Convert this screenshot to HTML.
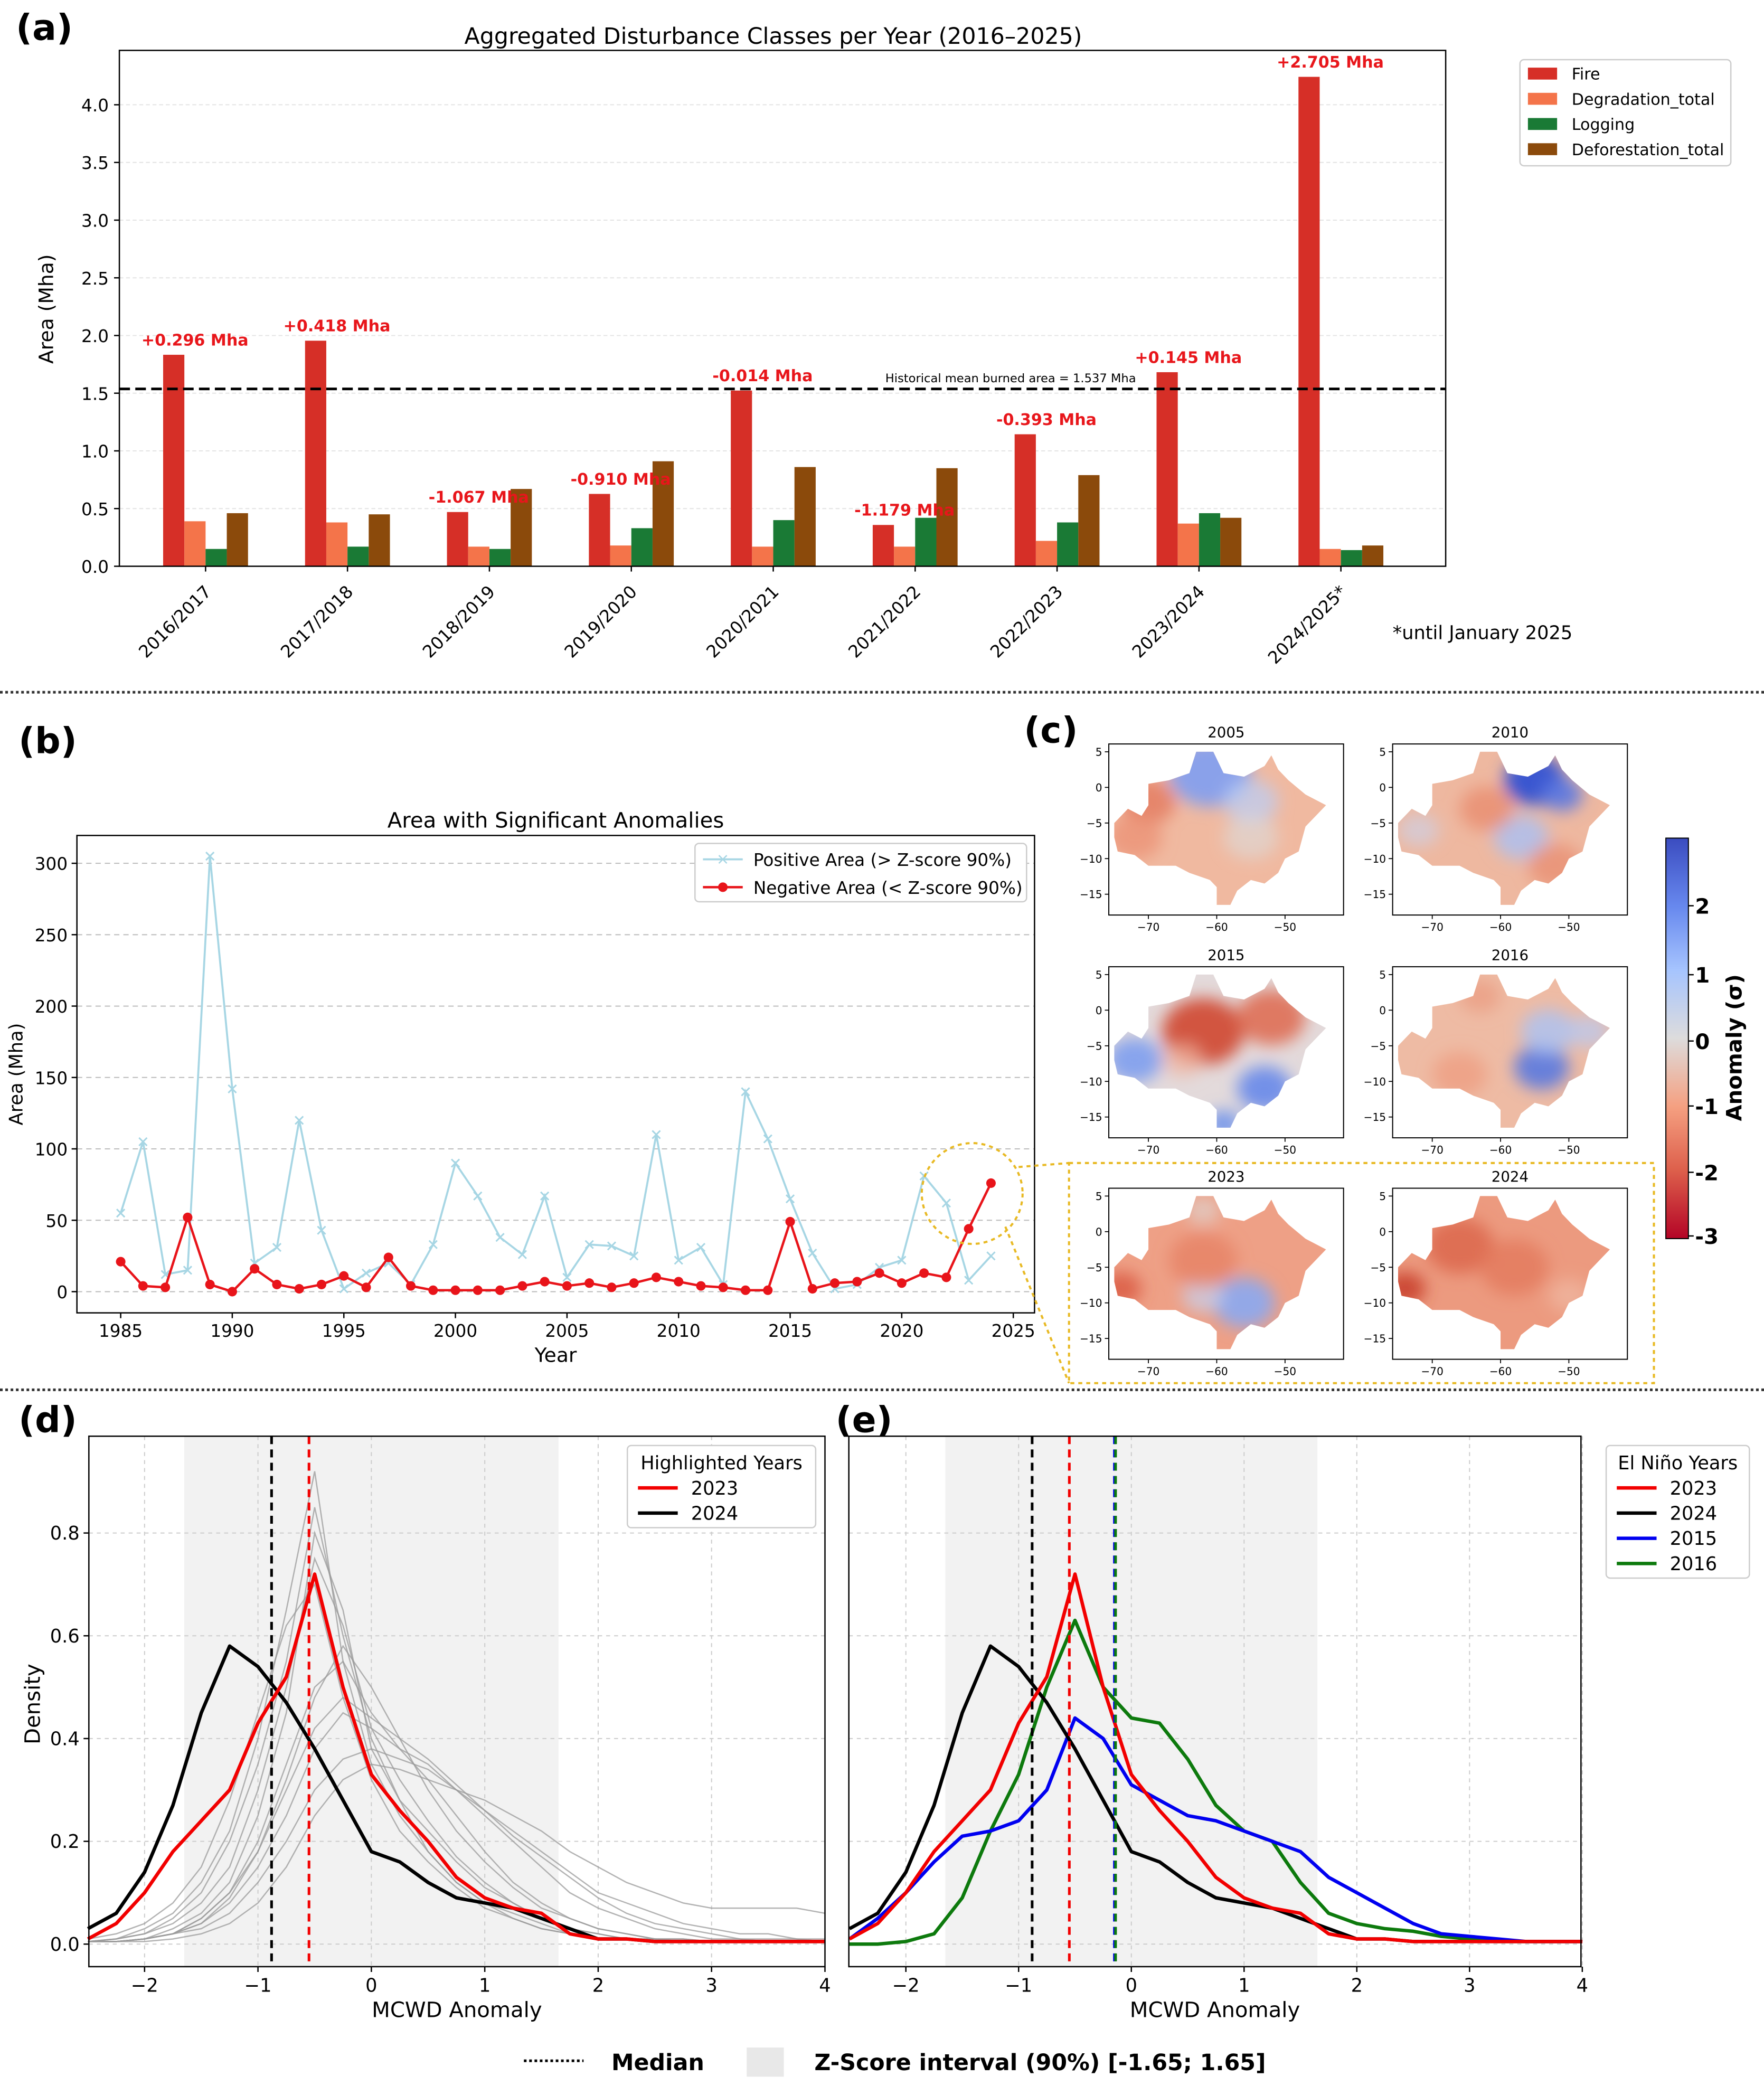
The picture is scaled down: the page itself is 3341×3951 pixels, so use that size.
<!DOCTYPE html>
<html><head><meta charset="utf-8">
<style>
html,body{margin:0;padding:0;background:#fff;}
svg{display:block;font-family:"DejaVu Sans","Liberation Sans",sans-serif;}
</style></head>
<body>
<svg id="fig" width="3341" height="3951" viewBox="0 0 1330 1573" preserveAspectRatio="none" xmlns="http://www.w3.org/2000/svg">
<defs>
<linearGradient id="cbar" x1="0" y1="1" x2="0" y2="0">
<stop offset="0" stop-color="#b40426"/><stop offset="0.17" stop-color="#dd5f4b"/><stop offset="0.33" stop-color="#f5a081"/><stop offset="0.5" stop-color="#dddcdc"/><stop offset="0.67" stop-color="#a6c4fe"/><stop offset="0.83" stop-color="#6788ee"/><stop offset="1" stop-color="#3b4cc0"/>
</linearGradient>
<filter id="blur" x="-50%" y="-50%" width="200%" height="200%"><feGaussianBlur stdDeviation="6"/></filter>
</defs>
<g id="root"></g>
</svg>
<script>
// ---------- Panel (a) data ----------
const aCats=["2016/2017","2017/2018","2018/2019","2019/2020","2020/2021","2021/2022","2022/2023","2023/2024","2024/2025*"];
const aFire=[1.833,1.955,0.470,0.627,1.523,0.358,1.144,1.682,4.242];
const aDeg=[0.39,0.38,0.17,0.18,0.17,0.17,0.22,0.37,0.15];
const aLog=[0.15,0.17,0.15,0.33,0.40,0.42,0.38,0.46,0.14];
const aDef=[0.46,0.45,0.67,0.91,0.86,0.85,0.79,0.42,0.18];
const aLabels=["+0.296 Mha","+0.418 Mha","-1.067 Mha","-0.910 Mha","-0.014 Mha","-1.179 Mha","-0.393 Mha","+0.145 Mha","+2.705 Mha"];
const aYTicks=[0,0.5,1.0,1.5,2.0,2.5,3.0,3.5,4.0];
const aMean=1.537;
// ---------- Panel (b) data ----------
const bYears=[];for(let y=1985;y<=2024;y++)bYears.push(y);
const bPos=[55,105,12,15,305,142,20,31,120,43,2,13,20,5,33,90,67,38,26,67,10,33,32,25,110,22,31,5,140,107,65,27,2,5,17,22,81,62,8,25];
const bNeg=[21,4,3,52,5,0,16,5,2,5,11,3,24,4,1,1,1,1,4,7,4,6,3,6,10,7,4,3,0,1,1,49,2,6,7,13,6,13,10,44];
bNeg.push(76); bNeg.splice(28,1);
const bXTicks=[1985,1990,1995,2000,2005,2010,2015,2020,2025];
const bYTicks=[0,50,100,150,200,250,300];
// ---------- Panel (d)/(e) data ----------
const kdeX=[-2.5,-2.25,-2,-1.75,-1.5,-1.25,-1,-0.75,-0.5,-0.25,0,0.25,0.5,0.75,1,1.25,1.5,1.75,2,2.25,2.5,2.75,3,3.25,3.5,3.75,4];
const d2023=[0.01,0.04,0.10,0.18,0.24,0.30,0.43,0.52,0.72,0.50,0.33,0.26,0.20,0.13,0.09,0.07,0.06,0.02,0.01,0.01,0.005,0.005,0.005,0.005,0.005,0.005,0.005];
const d2024=[0.03,0.06,0.14,0.27,0.45,0.58,0.54,0.47,0.38,0.28,0.18,0.16,0.12,0.09,0.08,0.07,0.05,0.03,0.01,0.01,0.005,0.005,0.005,0.005,0.005,0.005,0.005];
const d2015=[0.01,0.05,0.10,0.16,0.21,0.22,0.24,0.30,0.44,0.40,0.31,0.28,0.25,0.24,0.22,0.20,0.18,0.13,0.10,0.07,0.04,0.02,0.015,0.01,0.005,0.005,0.005];
const d2016=[0,0,0.005,0.02,0.09,0.22,0.33,0.50,0.63,0.50,0.44,0.43,0.36,0.27,0.22,0.20,0.12,0.06,0.04,0.03,0.025,0.015,0.01,0.005,0.005,0.005,0.005];
const greyA=[0.005,0.01,0.02,0.05,0.10,0.20,0.35,0.55,0.85,0.60,0.40,0.28,0.18,0.12,0.08,0.05,0.03,0.02,0.01,0.01,0.005,0.005,0.005,0.005,0.005,0.005,0.005];
const greyB=[0.005,0.01,0.03,0.06,0.12,0.22,0.40,0.65,0.92,0.55,0.35,0.25,0.18,0.12,0.08,0.06,0.04,0.02,0.01,0.01,0.005,0.005,0.005,0.005,0.005,0.005,0.005];
const greyC=[0.005,0.005,0.01,0.02,0.05,0.10,0.20,0.35,0.50,0.55,0.45,0.38,0.32,0.25,0.18,0.12,0.08,0.05,0.03,0.02,0.01,0.01,0.005,0.005,0.005,0.005,0.005];
const greyD=[0.005,0.005,0.01,0.02,0.04,0.08,0.15,0.25,0.38,0.45,0.42,0.38,0.35,0.30,0.25,0.20,0.15,0.10,0.07,0.05,0.03,0.02,0.01,0.01,0.005,0.005,0.005];
const greyE=[0.005,0.01,0.02,0.04,0.08,0.15,0.30,0.50,0.75,0.62,0.42,0.32,0.24,0.17,0.12,0.08,0.05,0.03,0.02,0.01,0.01,0.005,0.005,0.005,0.005,0.005,0.005];
const greyF=[0.005,0.005,0.01,0.02,0.03,0.06,0.12,0.20,0.30,0.36,0.38,0.36,0.34,0.30,0.26,0.22,0.18,0.14,0.10,0.08,0.06,0.04,0.03,0.02,0.02,0.01,0.01];
const greyG=[0.005,0.005,0.01,0.02,0.04,0.09,0.18,0.32,0.48,0.58,0.50,0.40,0.30,0.22,0.16,0.11,0.07,0.05,0.03,0.02,0.01,0.01,0.005,0.005,0.005,0.005,0.005];
const greyH=[0.005,0.005,0.005,0.01,0.02,0.04,0.08,0.15,0.25,0.32,0.35,0.34,0.32,0.30,0.28,0.25,0.22,0.18,0.15,0.12,0.10,0.08,0.07,0.07,0.07,0.07,0.06];
const greyI=[0.01,0.02,0.04,0.08,0.15,0.28,0.45,0.62,0.70,0.48,0.32,0.22,0.16,0.11,0.07,0.05,0.03,0.02,0.01,0.01,0.005,0.005,0.005,0.005,0.005,0.005,0.005];
const greyJ=[0.005,0.005,0.01,0.03,0.06,0.12,0.25,0.45,0.80,0.65,0.38,0.28,0.22,0.16,0.11,0.08,0.05,0.03,0.02,0.01,0.01,0.005,0.005,0.005,0.005,0.005,0.005];
const greyK=[0.005,0.005,0.01,0.02,0.05,0.10,0.18,0.30,0.42,0.48,0.44,0.40,0.36,0.31,0.26,0.21,0.17,0.13,0.09,0.06,0.04,0.03,0.02,0.01,0.01,0.01,0.005];
const greys=[greyA,greyB,greyC,greyD,greyE,greyF,greyG,greyH,greyI,greyJ,greyK];
const kdeXTicks=[-2,-1,0,1,2,3,4];
const kdeYTicks=[0,0.2,0.4,0.6,0.8];
const medD={m2023:-0.55,m2024:-0.88};
const medE={m2023:-0.55,m2024:-0.88,m2015:-0.15,m2016:-0.14};

const NS="http://www.w3.org/2000/svg";
const root=document.getElementById('root');
function el(tag,attrs,parent,text){const e=document.createElementNS(NS,tag);for(const k in attrs)e.setAttribute(k,attrs[k]);if(text!==undefined)e.textContent=text;(parent||root).appendChild(e);return e;}

// ===== Panel (a) =====
const A={x0:90,x1:1090,y0:38,y1:427,groupStart:155,groupStep:107,barW:16};
const ay=v=>A.y1-v*87;
const gA=el('g',{});

el('text',{x:12,y:30,'font-size':27,'font-weight':'bold'},gA,'(a)');
el('text',{x:583,y:33,'font-size':17,'text-anchor':'middle'},gA,'Aggregated Disturbance Classes per Year (2016–2025)');
aYTicks.forEach(t=>{el('line',{x1:A.x0,x2:A.x1,y1:ay(t),y2:ay(t),stroke:'#e4e4e4','stroke-width':0.8,'stroke-dasharray':'3,2'},gA);
 el('line',{x1:A.x0-4,x2:A.x0,y1:ay(t),y2:ay(t),stroke:'#000'},gA);
 el('text',{x:A.x0-8,y:ay(t)+5,'font-size':13,'text-anchor':'end'},gA,t.toFixed(1));});
el('text',{x:40,y:233,'font-size':15,'text-anchor':'middle',transform:'rotate(-90 40 233)'},gA,'Area (Mha)');
const series=[[aFire,'#d62f27','fire'],[aDeg,'#f4744a','degradation'],[aLog,'#1a7a35','logging'],[aDef,'#8b4a0b','deforestation']];
aCats.forEach((c,i)=>{const cx=A.groupStart+i*A.groupStep;
 series.forEach((s,j)=>{const x=cx-32+j*A.barW;const r=el('rect',{x:x,y:ay(s[0][i]),width:A.barW,height:ay(0)-ay(s[0][i]),fill:s[1]},gA);
  });
 el('line',{x1:cx,x2:cx,y1:A.y1,y2:A.y1+4,stroke:'#000'},gA);
 el('text',{x:cx+5,y:A.y1+20,'font-size':13,'text-anchor':'end',transform:`rotate(-45 ${cx+5} ${A.y1+20})`},gA,c);
 const lx=cx-32+A.barW*0.5;
 el('text',{x:cx-8+(i==8?0:0),y:ay(aFire[i])-7,'font-size':12,'font-weight':'bold',fill:'#e8161b','text-anchor':'middle'},gA,aLabels[i]);
});
el('line',{x1:A.x0,x2:A.x1,y1:ay(aMean),y2:ay(aMean),stroke:'#000','stroke-width':2,'stroke-dasharray':'8,4'},gA);
el('text',{x:762,y:ay(aMean)-5,'font-size':9,'text-anchor':'middle'},gA,'Historical mean burned area = 1.537 Mha');
el('rect',{x:A.x0,y:A.y0,width:A.x1-A.x0,height:A.y1-A.y0,fill:'none',stroke:'#000'},gA);
const legA=el('g',{},gA);
el('rect',{x:1146,y:45,width:159,height:80,fill:'#fff',stroke:'#ccc',rx:3},legA);
['Fire','Degradation_total','Logging','Deforestation_total'].forEach((n,j)=>{
 el('rect',{x:1152,y:51+j*19,width:22,height:9,fill:series[j][1]},legA);
 el('text',{x:1185,y:60+j*19,'font-size':12},legA,n);});
el('text',{x:1050,y:482,'font-size':14},gA,'*until January 2025');
// separators
el('line',{x1:0,x2:1330,y1:522,y2:522,stroke:'#333','stroke-width':2,'stroke-dasharray':'2,2'});
el('line',{x1:0,x2:1330,y1:1048,y2:1048,stroke:'#333','stroke-width':2,'stroke-dasharray':'2,2'});

// ===== Panel (b) =====
const B={x0:58,x1:780,y0:630,y1:990};
const bx=y=>91+(y-1985)*16.825, by=v=>974-v*1.0767;
const gB=el('g',{});
el('text',{x:14,y:568,'font-size':27,'font-weight':'bold'},gB,'(b)');
el('text',{x:419,y:624,'font-size':16,'text-anchor':'middle'},gB,'Area with Significant Anomalies');
bYTicks.forEach(t=>{el('line',{x1:B.x0,x2:B.x1,y1:by(t),y2:by(t),stroke:'#bbb','stroke-width':0.8,'stroke-dasharray':'4,3'},gB);
 el('line',{x1:B.x0-4,x2:B.x0,y1:by(t),y2:by(t),stroke:'#000'},gB);
 el('text',{x:B.x0-7,y:by(t)+5,'font-size':13,'text-anchor':'end'},gB,t);});
bXTicks.forEach(t=>{el('line',{x1:bx(t),x2:bx(t),y1:B.y1,y2:B.y1+4,stroke:'#000'},gB);
 el('text',{x:bx(t),y:B.y1+18,'font-size':13,'text-anchor':'middle'},gB,t);});
el('text',{x:419,y:1027,'font-size':15,'text-anchor':'middle'},gB,'Year');
el('text',{x:17,y:810,'font-size':14,'text-anchor':'middle',transform:'rotate(-90 17 810)'},gB,'Area (Mha)');
const posL=el('polyline',{points:bYears.map((y,i)=>bx(y)+','+by(bPos[i])).join(' '),fill:'none',stroke:'#a7d6e4','stroke-width':1.5},gB);

bYears.forEach((y,i)=>{const x=bx(y),yy=by(bPos[i]);el('path',{d:`M${x-3},${yy-3}L${x+3},${yy+3}M${x-3},${yy+3}L${x+3},${yy-3}`,stroke:'#a7d6e4','stroke-width':1.2},gB);});
const negL=el('polyline',{points:bYears.map((y,i)=>bx(y)+','+by(bNeg[i])).join(' '),fill:'none',stroke:'#e8141a','stroke-width':1.8},gB);

bYears.forEach((y,i)=>{el('circle',{cx:bx(y),cy:by(bNeg[i]),r:3.6,fill:'#e8141a'},gB);});
el('rect',{x:B.x0,y:B.y0,width:B.x1-B.x0,height:B.y1-B.y0,fill:'none',stroke:'#000'},gB);
el('circle',{cx:733,cy:900,r:38,fill:'none',stroke:'#e8b923','stroke-width':1.6,'stroke-dasharray':'3,3'},gB);
const legB=el('g',{},gB);
el('rect',{x:524,y:636,width:250,height:44,fill:'#fff',stroke:'#ccc',rx:3},legB);
el('line',{x1:530,x2:560,y1:648,y2:648,stroke:'#a7d6e4','stroke-width':1.5},legB);
el('path',{d:'M542,645L548,651M542,651L548,645',stroke:'#a7d6e4'},legB);
el('text',{x:568,y:653,'font-size':13},legB,'Positive Area (> Z-score 90%)');
el('line',{x1:530,x2:560,y1:669,y2:669,stroke:'#e8141a','stroke-width':1.8},legB);
el('circle',{cx:545,cy:669,r:3.6,fill:'#e8141a'},legB);
el('text',{x:568,y:674,'font-size':13},legB,'Negative Area (< Z-score 90%)');

// ===== Panel (c) maps =====
const gC=el('g',{});
el('text',{x:772,y:560,'font-size':27,'font-weight':'bold'},gC,'(c)');
const outline=[[-75,-5],[-73,-3],[-71,-4],[-70,-2.5],[-70,0.5],[-67,1],[-64,2],[-63,5],[-60.5,5],[-59,2],[-56,1.5],[-53,3],[-52,4.5],[-51,2.5],[-49.5,1],[-47,-1],[-44,-2.5],[-45.5,-4],[-47,-5.5],[-48,-9],[-50,-10],[-51,-12],[-53,-13.5],[-55,-13],[-57,-14.5],[-58,-16.5],[-60,-16.5],[-60,-14],[-61,-13],[-64,-12],[-66,-11],[-70,-11],[-72,-9.5],[-74.5,-9],[-75,-7]];
const maps=[
 {yr:'2005',x:836,y:561,base:'#f0b9a0',blobs:[[-61,2,6,'#7f9ff2',0.9],[-55,-2,4,'#b9cff8',0.7],[-70,-2,4,'#e3795e',0.8],[-72,-7,4,'#ec9275',0.8],[-55,-7,4,'#dcdcdc',0.6]]},
 {yr:'2010',x:1050,y:561,base:'#eeb8a0',blobs:[[-55,1,4.5,'#3b57d0',1],[-51,-1,3,'#5d79e0',0.9],[-57,-7,4,'#a9c1f5',0.8],[-72,-6,3,'#c9d4ef',0.6],[-62,-3,4,'#e8866a',0.7],[-52,-11,4,'#e8896c',0.7]]},
 {yr:'2015',x:836,y:729,base:'#e3dadb',blobs:[[-62,-3,6,'#d2553f',1],[-52,-1,5,'#df6f55',0.9],[-72,-7,4,'#7e9ff0',0.9],[-53,-11,4,'#6688ea',0.9],[-59,-16,2.5,'#7093ec',0.9],[-65,-7,3,'#f0b4a0',0.7]]},
 {yr:'2016',x:1050,y:729,base:'#eebba4',blobs:[[-54,-8,4,'#5a79e0',0.9],[-53,-3,4,'#aac3f5',0.8],[-63,2,3,'#eb9f84',0.8],[-66,-9,4,'#ee9a7d',0.7],[-47,-3,3,'#b6cbf5',0.7]]},
 {yr:'2023',x:836,y:896,base:'#eea086',blobs:[[-56,-10,4.5,'#8aa8f2',0.9],[-62,-9,3,'#c4d3f2',0.7],[-74,-8,3,'#d9563f',0.8],[-62,-4,5,'#e57d61',0.7],[-62,3,2.5,'#dcdcdc',0.6]]},
 {yr:'2024',x:1050,y:896,base:'#ec9a7f',blobs:[[-66,-2,5,'#dd6a4f',0.9],[-74,-8,3,'#c9412f',0.9],[-58,-5,5,'#e4795d',0.8],[-50,-9,3,'#efb9a4',0.7]]}
];
maps.forEach((m,k)=>{
 const g=el('g',{},gC);
 const W=177,H=129;
 const px=lon=>m.x+(lon+75.8)*5.15, py=lat=>m.y+(6.1-lat)*5.37;
 el('text',{x:m.x+W/2,y:m.y-5,'font-size':11,'text-anchor':'middle'},g,m.yr);
 const cid='clip'+k;const cp=el('clipPath',{id:cid},g);
 el('polygon',{points:outline.map(p=>px(p[0])+','+py(p[1])).join(' ')},cp);
 const inner=el('g',{'clip-path':`url(#${cid})`},g);
 el('rect',{x:m.x,y:m.y,width:W,height:H,fill:m.base},inner);
 const bg=el('g',{filter:'url(#blur)'},inner);
 m.blobs.forEach(b=>el('ellipse',{cx:px(b[0]),cy:py(b[1]),rx:b[2]*5.15,ry:b[2]*4.2,fill:b[3],opacity:b[4]},bg));
 el('rect',{x:m.x,y:m.y,width:W,height:H,fill:'none',stroke:'#000','stroke-width':0.8},g);
 [5,0,-5,-10,-15].forEach(t=>{el('line',{x1:m.x-3,x2:m.x,y1:py(t),y2:py(t),stroke:'#000','stroke-width':0.7},g);
  el('text',{x:m.x-5,y:py(t)+3,'font-size':8,'text-anchor':'end'},g,t<0?'−'+(-t):t);});
 [-70,-60,-50].forEach(t=>{el('line',{x1:px(t),x2:px(t),y1:m.y+H,y2:m.y+H+3,stroke:'#000','stroke-width':0.7},g);
  el('text',{x:px(t),y:m.y+H+12,'font-size':8,'text-anchor':'middle'},g,'−'+(-t));});
});
const cbg=el('g',{},gC);
el('rect',{x:1256,y:632,width:17,height:302,fill:'url(#cbar)',stroke:'#000','stroke-width':0.8},cbg);
[[2,683],[1,735],[0,785],[-1,834],[-2,884],[-3,932]].forEach(t=>{el('line',{x1:1273,x2:1277,y1:t[1],y2:t[1],stroke:'#000'},cbg);
 el('text',{x:1278,y:t[1]+6,'font-size':16,'font-weight':'bold'},cbg,t[0]);});
el('text',{x:1313,y:790,'font-size':16,'font-weight':'bold','text-anchor':'middle',transform:'rotate(-90 1313 790)'},cbg,'Anomaly (σ)');
el('rect',{x:806,y:877,width:441,height:166,fill:'none',stroke:'#e8b923','stroke-width':1.6,'stroke-dasharray':'3,3'},gC);
el('polyline',{points:'768,880 806,877',fill:'none',stroke:'#e8b923','stroke-width':1.6,'stroke-dasharray':'3,3'},gC);
el('polyline',{points:'758,925 806,1043',fill:'none',stroke:'#e8b923','stroke-width':1.6,'stroke-dasharray':'3,3'},gC);

// ===== Panels (d),(e) =====
function kdePanel(P,label,lines,meds,legTitle,legItems,legBox,withGrey){
 const g=el('g',{});
 const kx=v=>P.zx+v*P.ux, ky=v=>1466-v*387.5;
 el('text',{x:P.lx,y:1080,'font-size':27,'font-weight':'bold'},g,'('+label+')');
 el('rect',{x:kx(-1.65),y:P.y0,width:kx(1.65)-kx(-1.65),height:P.y1-P.y0,fill:'#f2f2f2'},g);
 kdeXTicks.forEach(t=>{el('line',{x1:kx(t),x2:kx(t),y1:P.y0,y2:P.y1,stroke:'#ccc','stroke-width':0.8,'stroke-dasharray':'3,3'},g);
  el('line',{x1:kx(t),x2:kx(t),y1:P.y1,y2:P.y1+4,stroke:'#000'},g);
  el('text',{x:kx(t),y:P.y1+19,'font-size':14,'text-anchor':'middle'},g,t<0?'−'+(-t):t);});
 kdeYTicks.forEach(t=>{el('line',{x1:P.x0,x2:P.x1,y1:ky(t),y2:ky(t),stroke:'#ccc','stroke-width':0.8,'stroke-dasharray':'3,3'},g);
  if(withGrey){el('line',{x1:P.x0-4,x2:P.x0,y1:ky(t),y2:ky(t),stroke:'#000'},g);
  el('text',{x:P.x0-7,y:ky(t)+5,'font-size':14,'text-anchor':'end'},g,t.toFixed(1));}});
 el('text',{x:(P.x0+P.x1)/2,y:1521,'font-size':16,'text-anchor':'middle'},g,'MCWD Anomaly');
 if(withGrey){el('text',{x:30,y:1285,'font-size':16,'text-anchor':'middle',transform:'rotate(-90 30 1285)'},g,'Density');
  greys.forEach((s,i)=>{const p=el('polyline',{points:kdeX.map((x,j)=>kx(x)+','+ky(s[j])).join(' '),fill:'none',stroke:'#999','stroke-width':1,opacity:0.75},g);
   });}
 lines.forEach(L=>{const p=el('polyline',{points:kdeX.map((x,j)=>kx(x)+','+ky(L.d[j])).join(' '),fill:'none',stroke:L.c,'stroke-width':2.6,'stroke-linejoin':'round'},g);
  });
 meds.forEach(m=>{const l=el('line',{x1:kx(m.v),x2:kx(m.v),y1:P.y0,y2:P.y1,stroke:m.c,'stroke-width':2,'stroke-dasharray':'6,4'},g);
  });
 el('rect',{x:P.x0,y:P.y0,width:P.x1-P.x0,height:P.y1-P.y0,fill:'none',stroke:'#000'},g);
 const lg=el('g',{},g);
 el('rect',{x:legBox[0],y:legBox[1],width:legBox[2],height:legBox[3],fill:'#fff',stroke:'#ccc',rx:3},lg);
 el('text',{x:legBox[0]+legBox[2]/2,y:legBox[1]+18,'font-size':14,'text-anchor':'middle'},lg,legTitle);
 legItems.forEach((it,j)=>{const yy=legBox[1]+32+j*19;
  el('line',{x1:legBox[0]+8,x2:legBox[0]+38,y1:yy,y2:yy,stroke:it.c,'stroke-width':2.6},lg);
  el('text',{x:legBox[0]+48,y:yy+5,'font-size':14},lg,it.n);});
}
kdePanel({x0:67,x1:622,y0:1083,y1:1483,zx:280,ux:85.5,lx:14},'d',
 [{n:'2024',d:d2024,c:'#000'},{n:'2023',d:d2023,c:'#f20000'}],
 [{n:'2024',v:medD.m2024,c:'#000'},{n:'2023',v:medD.m2023,c:'#f20000'}],
 'Highlighted Years',[{n:'2023',c:'#f20000'},{n:'2024',c:'#000'}],[473,1090,142,62],true);
kdePanel({x0:640,x1:1192,y0:1083,y1:1483,zx:853,ux:85,lx:630},'e',
 [{n:'2016',d:d2016,c:'#0d7a0d'},{n:'2015',d:d2015,c:'#0000f0'},{n:'2024',d:d2024,c:'#000'},{n:'2023',d:d2023,c:'#f20000'}],
 [{n:'2024',v:medE.m2024,c:'#000'},{n:'2023',v:medE.m2023,c:'#f20000'},{n:'2015',v:medE.m2015,c:'#0000f0'},{n:'2016',v:medE.m2016,c:'#0d7a0d'}],
 'El Niño Years',[{n:'2023',c:'#f20000'},{n:'2024',c:'#000'},{n:'2015',c:'#0000f0'},{n:'2016',c:'#0d7a0d'}],[1211,1090,108,100],false);
// bottom legend
const bl=el('g',{});
el('line',{x1:395,x2:440,y1:1554,y2:1554,stroke:'#000','stroke-width':2,'stroke-dasharray':'2,2'},bl);
el('text',{x:461,y:1561,'font-size':17,'font-weight':'bold'},bl,'Median');
el('rect',{x:563,y:1544,width:28,height:22,fill:'#e8e8e8'},bl);
el('text',{x:614,y:1561,'font-size':17,'font-weight':'bold'},bl,'Z-Score interval (90%) [-1.65; 1.65]');
</script>
</body></html>
